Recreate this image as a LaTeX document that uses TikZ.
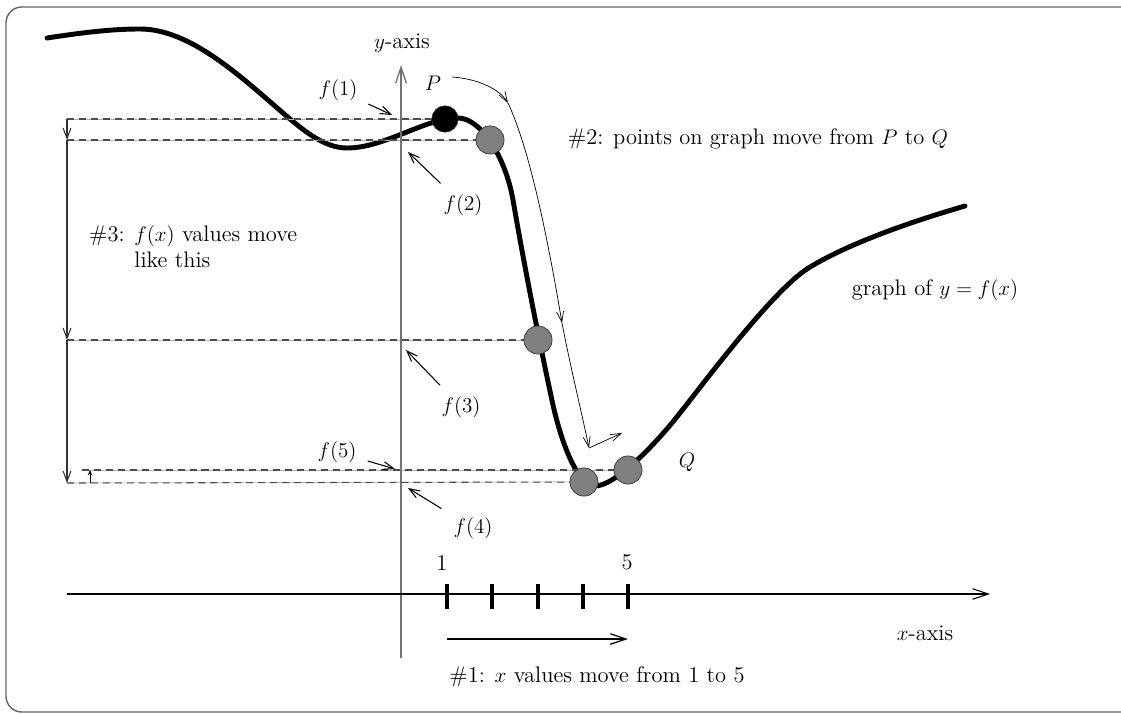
\documentclass[tikz,border=0pt]{standalone}
\usepackage{tikz}
\usetikzlibrary{arrows.meta, positioning}

\begin{document}
\begin{tikzpicture}[x=0.02cm, y=-0.02cm,
  every node/.style={font=\fontsize{12.8}{15}\selectfont},
  curve/.style={line width=2.8pt, line cap=round},
  dot/.style={circle, draw=black!80, fill=black!50, thin, minimum size=16pt, inner sep=0pt},
  bigdot/.style={dot, fill=black, minimum size=15pt},
  dashline/.style={black!70, line width=0.6pt, dash pattern=on 4pt off 2.8pt,
    preaction={draw=black!30, solid}},
  ptr/.style={-{Straight Barb[length=6pt, width=4.5pt]}, line width=0.6pt},
  mv/.style={-{Straight Barb[length=6pt, width=4pt]}, line width=0.4pt},
  axis/.style={-{Straight Barb[length=9pt, width=6pt]}, line width=0.6pt}]
  \useasboundingbox (0,0) rectangle (1121,713);
  \draw[black!60, line width=0.8pt, rounded corners=9pt] (6,7) rectangle (1150,712);

  % the graph
  \draw[curve] (47,38) .. controls (80,33) and (110,29) .. (140,29)
    .. controls (190,29) and (240,76) .. (283,113)
    .. controls (305,132) and (325,148) .. (347,148)
    .. controls (385,148) and (425,118) .. (458,118)
    .. controls (480,118) and (505,155) .. (513,200)
    .. controls (525,270) and (540,345) .. (553,405)
    .. controls (562,445) and (578,486) .. (595,486)
    .. controls (615,486) and (655,445) .. (680,413)
    .. controls (710,375) and (775,288) .. (810,267)
    .. controls (850,243) and (910,222) .. (965,206);

  % levels on the left
  \coordinate (l1) at (67,119);
  \coordinate (l2) at (67,140);
  \coordinate (l3) at (67,340);
  \coordinate (l4) at (67,483);
  \coordinate (l5) at (90,470);
  \coordinate (l5s) at (90,483);
  \coordinate (l5e) at (82,470);

  \draw[dashline] (l1) -- (445,119) coordinate (e1);
  \draw[dashline] (l2) -- (490,140) coordinate (e2);
  \draw[dashline] (l3) -- (538,340) coordinate (e3);
  \draw[dashline] (l4) -- (584,482) coordinate (e4);
  \draw[dashline] (l5e) -- (628,470) coordinate (e5);

  \draw[ptr, black!80] (l1) -- (l2);
  \draw[ptr, black!80] (l2) -- (l3);
  \draw[ptr, black!80] (l3) -- (l4);
  \draw[-{Stealth[length=3pt, width=2.5pt]}, line width=0.5pt] (l5s) -- (l5);

  % points on the graph
  \node[bigdot] (P) at (e1) {};
  \node[dot] (d2) at (e2) {};
  \node[dot] (d3) at (e3) {};
  \node[dot] (d4) at (e4) {};
  \node[dot] (Q) at (e5) {};
  \node (Plbl) at (433,83) {$P$};
  \node (Qlbl) at (687,462) {$Q$};

  % axes
  \coordinate (yb) at (401,658);
  \coordinate (yt) at (401,65);
  \draw[axis, black!55, line width=0.8pt] (yb) -- (yt);
  \node (ylbl) at (402,43) {$y$-axis};
  \coordinate (xl) at (67,594);
  \coordinate (xr) at (990,594);
  \draw[axis] (xl) -- (xr);
  \node (xlbl) at (925,633) {$x$-axis};
  \foreach \t in {447,492,538,583,628}
    \draw[line width=2.2pt] (\t,584) -- (\t,609);
  \node (one) at (442,563) {1};
  \node (five) at (627,562) {5};

  % f labels
  \node (f1) at (338,90) {$f(1)$};
  \node (f2) at (463,205) {$f(2)$};
  \node (f3) at (461,407) {$f(3)$};
  \node (f5) at (337,452) {$f(5)$};
  \node (f4) at (473,528) {$f(4)$};
  \coordinate (c1) at (392,115);
  \coordinate (c2) at (408,152);
  \coordinate (c3) at (406,350);
  \coordinate (c5) at (395,469);
  \coordinate (c4) at (408,488);
  \draw[ptr, shorten <=3pt] (f1) -- (c1);
  \draw[ptr, shorten <=4pt] (f2) -- (c2);
  \draw[ptr, shorten <=4pt] (f3) -- (c3);
  \draw[ptr, shorten <=3pt] (f5) -- (c5);
  \draw[ptr, shorten <=4pt] (f4) -- (c4);

  % motion along the graph
  \coordinate (m0) at (452,77);
  \coordinate (m1) at (508,103);
  \coordinate (m2) at (562,323);
  \coordinate (m3) at (589,448);
  \coordinate (m4) at (622,433);
  \draw[mv] (m0) .. controls (480,79) and (500,90) .. (m1);
  \draw[mv] (m1) .. controls (530,150) and (548,240) .. (m2);
  \draw[mv] (m2) .. controls (570,365) and (580,405) .. (m3);
  \draw[mv] (m3) -- (m4);

  % x values move
  \coordinate (a1) at (447,639);
  \coordinate (a5) at (628,639);
  \draw[axis, line width=0.7pt] (a1) -- (a5);

  % captions
  \node (cap1) at (597,677) {\#1: $x$ values move from 1 to 5};
  \node (cap2) at (758,139) {\#2: points on graph move from $P$ to $Q$};
  \node[anchor=base west] (cap3) at (83,241)
    {\#3: \begin{tabular}[t]{@{}l@{}}$f(x)$ values move\\like this\end{tabular}};
  \node (glbl) at (935,290) {graph of $y=f(x)$};
\end{tikzpicture}
\end{document}
